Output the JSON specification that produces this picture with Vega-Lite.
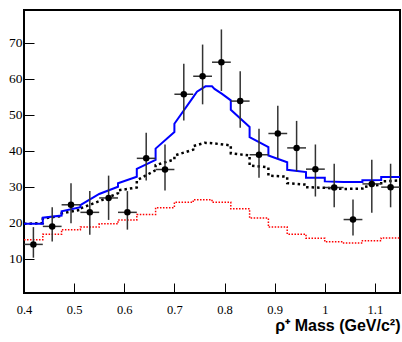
{
  "$schema": "https://vega.github.io/schema/vega-lite/v6.json",
  "width": 376,
  "height": 283,
  "autosize": {"type": "none"},
  "padding": {"left": 24, "top": 10, "right": 2, "bottom": 49},
  "background": "white",
  "view": {"stroke": "black", "strokeWidth": 2},
  "datasets": {
    "pts": [
      {"x": 0.41875, "y": 14.0, "lo": 10.3, "hi": 18.8, "xlo": 0.4, "xhi": 0.4375},
      {"x": 0.45625, "y": 19.0, "lo": 14.8, "hi": 24.3, "xlo": 0.4375, "xhi": 0.475},
      {"x": 0.49375, "y": 25.0, "lo": 19.9, "hi": 31.0, "xlo": 0.475, "xhi": 0.5125},
      {"x": 0.53125, "y": 22.9, "lo": 16.7, "hi": 28.8, "xlo": 0.5125, "xhi": 0.55},
      {"x": 0.56875, "y": 26.9, "lo": 20.8, "hi": 33.1, "xlo": 0.55, "xhi": 0.5875},
      {"x": 0.60625, "y": 22.9, "lo": 18.1, "hi": 28.8, "xlo": 0.5875, "xhi": 0.625},
      {"x": 0.64375, "y": 37.9, "lo": 31.75, "hi": 45.0, "xlo": 0.625, "xhi": 0.6625},
      {"x": 0.68125, "y": 34.8, "lo": 29.0, "hi": 41.75, "xlo": 0.6625, "xhi": 0.7},
      {"x": 0.71875, "y": 55.7, "lo": 48.4, "hi": 64.2, "xlo": 0.7, "xhi": 0.7375},
      {"x": 0.75625, "y": 60.7, "lo": 52.9, "hi": 69.5, "xlo": 0.7375, "xhi": 0.775},
      {"x": 0.79375, "y": 64.6, "lo": 56.6, "hi": 73.7, "xlo": 0.775, "xhi": 0.8125},
      {"x": 0.83125, "y": 53.8, "lo": 46.4, "hi": 62.1, "xlo": 0.8125, "xhi": 0.85},
      {"x": 0.86875, "y": 38.9, "lo": 32.5, "hi": 46.1, "xlo": 0.85, "xhi": 0.8875},
      {"x": 0.90625, "y": 44.8, "lo": 37.9, "hi": 52.5, "xlo": 0.8875, "xhi": 0.925},
      {"x": 0.94375, "y": 40.8, "lo": 34.3, "hi": 48.3, "xlo": 0.925, "xhi": 0.9625},
      {"x": 0.98125, "y": 34.9, "lo": 27.3, "hi": 41.75, "xlo": 0.9625, "xhi": 1.0},
      {"x": 1.01875, "y": 29.8, "lo": 24.3, "hi": 36.4, "xlo": 1.0, "xhi": 1.0375},
      {"x": 1.05625, "y": 20.9, "lo": 16.5, "hi": 26.5, "xlo": 1.0375, "xhi": 1.075},
      {"x": 1.09375, "y": 30.8, "lo": 22.8, "hi": 37.5, "xlo": 1.075, "xhi": 1.1125},
      {"x": 1.13125, "y": 29.9, "lo": 24.3, "hi": 36.4, "xlo": 1.1125, "xhi": 1.15}
    ],
    "red": [
      {"x": 0.4, "y": 15.3}, {"x": 0.4375, "y": 16.8}, {"x": 0.475, "y": 18.1},
      {"x": 0.5125, "y": 18.8}, {"x": 0.55, "y": 19.7}, {"x": 0.5875, "y": 20.8},
      {"x": 0.625, "y": 22.3}, {"x": 0.6625, "y": 24.2}, {"x": 0.7, "y": 25.7},
      {"x": 0.7375, "y": 26.4}, {"x": 0.775, "y": 25.7}, {"x": 0.8125, "y": 23.9},
      {"x": 0.85, "y": 21.3}, {"x": 0.8875, "y": 18.8}, {"x": 0.925, "y": 16.8},
      {"x": 0.9625, "y": 15.7}, {"x": 1.0, "y": 14.7}, {"x": 1.0375, "y": 14.4},
      {"x": 1.075, "y": 15.0}, {"x": 1.1125, "y": 15.8}, {"x": 1.15, "y": 15.8}
    ],
    "black": [
      {"i": 0, "x": 0.4, "y": 19.7}, {"i": 1, "x": 0.4375, "y": 19.9}, {"i": 2, "x": 0.4375, "y": 21.2},
      {"i": 3, "x": 0.475, "y": 21.9}, {"i": 4, "x": 0.475, "y": 22.6}, {"i": 5, "x": 0.5125, "y": 23.6},
      {"i": 6, "x": 0.5125, "y": 24.0}, {"i": 7, "x": 0.55, "y": 26.0}, {"i": 8, "x": 0.5875, "y": 28.2},
      {"i": 9, "x": 0.5875, "y": 29.0}, {"i": 10, "x": 0.625, "y": 29.8}, {"i": 11, "x": 0.625, "y": 31.8},
      {"i": 12, "x": 0.6625, "y": 34.6}, {"i": 13, "x": 0.6625, "y": 36.0}, {"i": 14, "x": 0.7, "y": 37.6},
      {"i": 15, "x": 0.7, "y": 38.7}, {"i": 16, "x": 0.7375, "y": 40.3}, {"i": 17, "x": 0.7375, "y": 41.3},
      {"i": 18, "x": 0.76, "y": 42.2}, {"i": 19, "x": 0.775, "y": 42.1}, {"i": 20, "x": 0.8125, "y": 41.5},
      {"i": 21, "x": 0.8125, "y": 39.3}, {"i": 22, "x": 0.85, "y": 38.7}, {"i": 23, "x": 0.85, "y": 35.9},
      {"i": 24, "x": 0.8875, "y": 35.4}, {"i": 25, "x": 0.8875, "y": 33.1}, {"i": 26, "x": 0.925, "y": 32.8},
      {"i": 27, "x": 0.925, "y": 31.0}, {"i": 28, "x": 0.9625, "y": 30.6}, {"i": 29, "x": 0.9625, "y": 29.9},
      {"i": 30, "x": 1.0, "y": 29.7}, {"i": 31, "x": 1.0375, "y": 29.4}, {"i": 32, "x": 1.075, "y": 29.5},
      {"i": 33, "x": 1.075, "y": 29.9}, {"i": 34, "x": 1.1125, "y": 30.6}, {"i": 35, "x": 1.1125, "y": 31.5},
      {"i": 36, "x": 1.15, "y": 31.75}
    ],
    "blue": [
      {"i": 0, "x": 0.4, "y": 19.7}, {"i": 1, "x": 0.4375, "y": 19.7}, {"i": 2, "x": 0.4375, "y": 21.4},
      {"i": 3, "x": 0.475, "y": 22.0}, {"i": 4, "x": 0.475, "y": 23.2}, {"i": 5, "x": 0.5125, "y": 24.3},
      {"i": 6, "x": 0.5125, "y": 24.9}, {"i": 7, "x": 0.55, "y": 28.0}, {"i": 8, "x": 0.5875, "y": 30.0},
      {"i": 9, "x": 0.5875, "y": 31.0}, {"i": 10, "x": 0.625, "y": 32.8}, {"i": 11, "x": 0.625, "y": 35.0},
      {"i": 12, "x": 0.6625, "y": 37.5}, {"i": 13, "x": 0.6625, "y": 40.6}, {"i": 14, "x": 0.7, "y": 45.2},
      {"i": 15, "x": 0.7, "y": 47.5}, {"i": 16, "x": 0.7375, "y": 54.9}, {"i": 17, "x": 0.745, "y": 56.4},
      {"i": 18, "x": 0.762, "y": 57.9}, {"i": 19, "x": 0.775, "y": 57.9}, {"i": 20, "x": 0.78, "y": 57.2},
      {"i": 21, "x": 0.795, "y": 55.8}, {"i": 22, "x": 0.8125, "y": 54.0}, {"i": 23, "x": 0.8125, "y": 51.4},
      {"i": 24, "x": 0.85, "y": 46.6}, {"i": 25, "x": 0.85, "y": 43.8}, {"i": 26, "x": 0.8875, "y": 41.0},
      {"i": 27, "x": 0.8875, "y": 38.7}, {"i": 28, "x": 0.925, "y": 36.8}, {"i": 29, "x": 0.925, "y": 34.7},
      {"i": 30, "x": 0.9625, "y": 34.1}, {"i": 31, "x": 0.9625, "y": 32.5}, {"i": 32, "x": 1.0, "y": 32.5},
      {"i": 33, "x": 1.0, "y": 31.5}, {"i": 34, "x": 1.0375, "y": 31.3}, {"i": 35, "x": 1.075, "y": 31.3},
      {"i": 36, "x": 1.075, "y": 31.8}, {"i": 37, "x": 1.1125, "y": 31.9}, {"i": 38, "x": 1.1125, "y": 32.7},
      {"i": 39, "x": 1.15, "y": 32.7}
    ],
    "one": [{"k": 1}]
  },
  "config": {
    "axisX": {
      "values": [0.4,0.5,0.6,0.7,0.8,0.9,1.0,1.1],
      "domain": false, "grid": false,
      "tickColor": "black", "tickWidth": 1, "tickSize": -10,
      "format": "~g",
      "labelFont": "Liberation Serif", "labelFontSize": 12.5, "labelColor": "black",
      "labelPadding": 20, "labelOverlap": false, "labelFlush": false,
      "titleFont": "Liberation Sans", "titleFontWeight": "bold", "titleFontSize": 16, "titleColor": "black",
      "titleAnchor": "end", "titleAlign": "right", "titleBaseline": "alphabetic", "titleX": 376, "titleY": 37
    },
    "axisY": {
      "values": [10,20,30,40,50,60,70],
      "domain": false, "grid": false,
      "tickColor": "black", "tickWidth": 1, "tickSize": -10,
      "format": "d",
      "labelFont": "Liberation Serif", "labelFontSize": 13.5, "labelColor": "black",
      "labelPadding": 12, "labelOverlap": false, "labelFlush": false
    }
  },
  "encoding": {
    "x": {"field": "x", "type": "quantitative", "scale": {"domain": [0.4, 1.15], "nice": false, "zero": false}, "title": "ρ⁺ Mass (GeV/c²)"},
    "y": {"field": "y", "type": "quantitative", "scale": {"domain": [0.5, 79.1], "nice": false, "zero": false}, "title": null}
  },
  "layer": [
    {
      "data": {"name": "red"},
      "mark": {"type": "line", "interpolate": "step-after", "color": "#ff0000", "strokeWidth": 1.5, "strokeDash": [1.5, 1.5]},
      "encoding": {"order": {"field": "x", "type": "quantitative"}}
    },
    {
      "data": {"name": "black"},
      "mark": {"type": "line", "color": "black", "strokeWidth": 2.5, "strokeDash": [2.5, 3]},
      "encoding": {"order": {"field": "i", "type": "quantitative"}}
    },
    {
      "data": {"name": "blue"},
      "mark": {"type": "line", "color": "#0000ff", "strokeWidth": 2},
      "encoding": {"order": {"field": "i", "type": "quantitative"}}
    },
    {
      "data": {"name": "pts"},
      "mark": {"type": "rule", "color": "#333333", "strokeWidth": 1.5},
      "encoding": {
        "y": {"field": "lo", "type": "quantitative", "scale": {"domain": [0.5, 79.1], "nice": false, "zero": false}, "title": null},
        "y2": {"field": "hi"}
      }
    },
    {
      "data": {"name": "pts"},
      "mark": {"type": "rule", "color": "#333333", "strokeWidth": 1.5},
      "encoding": {
        "x": {"field": "xlo", "type": "quantitative", "scale": {"domain": [0.4, 1.15], "nice": false, "zero": false}, "title": "ρ⁺ Mass (GeV/c²)"},
        "x2": {"field": "xhi"}
      }
    },
    {
      "data": {"name": "pts"},
      "mark": {"type": "point", "filled": true, "color": "black", "size": 42, "opacity": 1}
    },
    {
      "data": {"name": "one"},
      "mark": {"type": "text", "text": "BABAR", "font": "Liberation Serif", "fontStyle": "italic", "fontSize": 17, "color": "#ff0000", "align": "left", "baseline": "alphabetic"},
      "encoding": {
        "x": {"datum": 0.4658, "type": "quantitative", "scale": {"domain": [0.4, 1.15], "nice": false, "zero": false}, "title": "ρ⁺ Mass (GeV/c²)"},
        "y": {"datum": 68.5, "type": "quantitative", "scale": {"domain": [0.5, 79.1], "nice": false, "zero": false}, "title": null}
      }
    },
    {
      "data": {"name": "one"},
      "mark": {"type": "text", "text": "PRELIMINARY 82 fb⁻¹", "font": "Liberation Sans", "fontSize": 8.5, "color": "#222222", "align": "left", "baseline": "alphabetic"},
      "encoding": {
        "x": {"datum": 0.4658, "type": "quantitative", "scale": {"domain": [0.4, 1.15], "nice": false, "zero": false}, "title": "ρ⁺ Mass (GeV/c²)"},
        "y": {"datum": 65.9, "type": "quantitative", "scale": {"domain": [0.5, 79.1], "nice": false, "zero": false}, "title": null}
      }
    },
    {
      "data": {"name": "one"},
      "mark": {"type": "text", "text": "ρ", "font": "Liberation Serif", "fontStyle": "italic", "fontSize": 60, "color": "#107010", "align": "center", "baseline": "alphabetic"},
      "encoding": {
        "x": {"datum": 0.5087, "type": "quantitative", "scale": {"domain": [0.4, 1.15], "nice": false, "zero": false}, "title": "ρ⁺ Mass (GeV/c²)"},
        "y": {"datum": 48.0, "type": "quantitative", "scale": {"domain": [0.5, 79.1], "nice": false, "zero": false}, "title": null}
      }
    },
    {
      "data": {"name": "one"},
      "mark": {"type": "text", "text": "+", "font": "Liberation Serif", "fontSize": 62, "color": "#107010", "align": "center", "baseline": "middle"},
      "encoding": {
        "x": {"datum": 0.5745, "type": "quantitative", "scale": {"domain": [0.4, 1.15], "nice": false, "zero": false}, "title": "ρ⁺ Mass (GeV/c²)"},
        "y": {"datum": 58.5, "type": "quantitative", "scale": {"domain": [0.5, 79.1], "nice": false, "zero": false}, "title": null}
      }
    }
  ]
}
